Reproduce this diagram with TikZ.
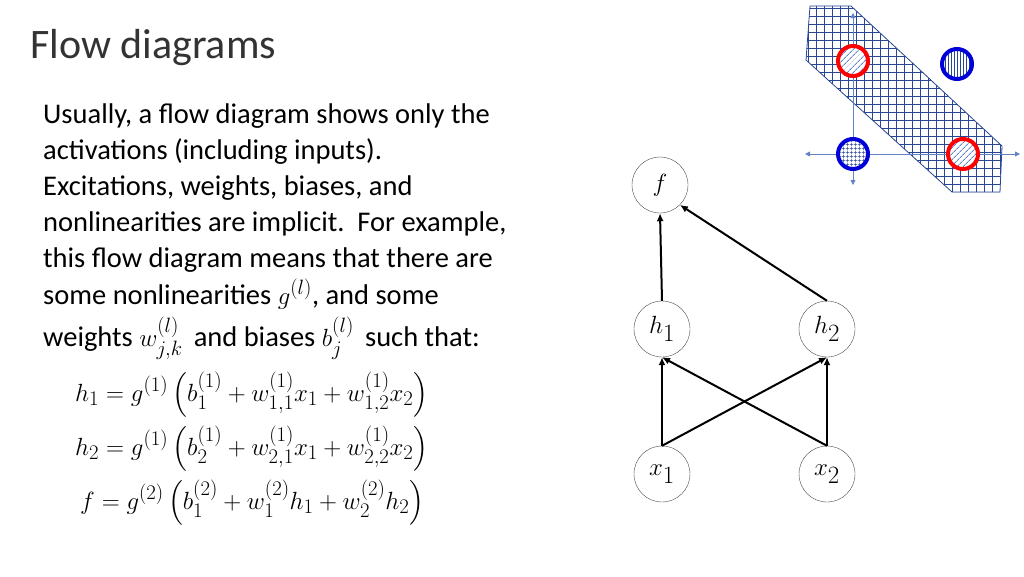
\documentclass[tikz,border=0pt]{standalone}
\usepackage{amsmath}
\usepackage{fontspec}
\setmainfont{Carlito}
\usetikzlibrary{patterns,patterns.meta,arrows.meta}
\begin{document}
\begin{tikzpicture}[x=1pt,y=-1pt,
  nn/.style={circle,draw=black!70,fill=white,minimum size=56pt,inner sep=0pt,font=\fontsize{34}{38}\selectfont},
  ar/.style={-{Latex[length=8pt,width=7pt]},line width=2pt},
  tl/.style={anchor=base west,inner sep=0pt,font=\fontsize{28.5}{34}\selectfont},
  eq/.style={anchor=base west,inner sep=0pt,font=\fontsize{31}{36}\selectfont},
  wc/.style={circle,minimum size=30pt,fill=white},
  rc/.style={circle,minimum size=30pt,draw=red,line width=4pt,pattern={Lines[angle=45,distance=4pt,line width=1pt]},pattern color=ax},
  bcv/.style={circle,minimum size=30pt,draw=blue!85!black,line width=4pt,pattern={Lines[angle=90,distance=3pt,line width=0.7pt]},pattern color=ib},
  bcg/.style={circle,minimum size=30pt,draw=blue!85!black,line width=4pt,pattern={Hatch[angle=0,distance=4pt,line width=0.6pt]},pattern color=ib}]
\useasboundingbox (0,0) rectangle (1024,576);
\node[anchor=base west,inner sep=0pt,font=\fontsize{42}{48}\selectfont,text=black!80] (title) at (30,58) {Flow diagrams};
\node[tl] (l1) at (43,123) {Usually, a flow diagram shows only the};
\node[tl] (l2) at (43,159) {activations (including inputs).};
\node[tl] (l3) at (43,195) {Excitations, weights, biases, and};
\node[tl] (l4) at (43,231) {nonlinearities are implicit.\ \ For example,};
\node[tl] (l5) at (43,267) {this flow diagram means that there are};
\node[tl] (l6) at (43,304) {some nonlinearities $g^{(l)}$, and some};
\node[tl] (l7) at (43,346) {weights $w^{(l)}_{j,k}$\, and biases $b^{(l)}_j$\, such that:};
\node[eq] (e1) at (75,401) {$h_1=g^{(1)}\,\Bigl(b^{(1)}_1+w^{(1)}_{1,1}x_1+w^{(1)}_{1,2}x_2\Bigr)$};
\node[eq] (e2) at (75,455) {$h_2=g^{(1)}\,\Bigl(b^{(1)}_2+w^{(1)}_{2,1}x_1+w^{(1)}_{2,2}x_2\Bigr)$};
\node[eq] (e3) at (80,509) {$f=g^{(2)}\,\Bigl(b^{(2)}_1+w^{(2)}_{1}h_1+w^{(2)}_{2}h_2\Bigr)$};
% network
\node[nn] (f) at (660,185) {$f$};
\node[nn] (h1) at (662,329) {$h_1$};
\node[nn] (h2) at (827,329) {$h_2$};
\node[nn] (x1) at (662,474) {$x_1$};
\node[nn] (x2) at (827,474) {$x_2$};
\draw[ar] (x1.north) -- (h1.south);
\draw[ar] (x1.north) -- (h2.south);
\draw[ar] (x2.north) -- (h1.south);
\draw[ar] (x2.north) -- (h2.south);
\draw[ar] (h1.north) -- (f.south);
\draw[ar] (h2.north) -- (f.south east);
% inset
\definecolor{ib}{RGB}{40,70,150}
\definecolor{ax}{RGB}{100,130,200}
\fill[pattern={Hatch[angle=0,distance=8pt,line width=0.6pt]},pattern color=ib]
  (810,6) -- (851,6) -- (1002,146) -- (1000,192) -- (952,192) -- (806,60) -- cycle;
\draw[ib,line width=0.8pt] (810,6) -- (851,6) -- (1002,146) -- (1000,192) -- (952,192) -- (806,60) -- cycle;
\coordinate (hl) at (805,154); \coordinate (hr) at (1020,154);
\coordinate (vt) at (853,13); \coordinate (vb) at (853,185);
\draw[ax,line width=0.8pt,{Triangle[length=5pt,width=5pt]}-{Triangle[length=5pt,width=5pt]}] (hl) -- (hr);
\draw[ax,line width=0.8pt,{Triangle[length=5pt,width=5pt]}-{Triangle[length=5pt,width=5pt]}] (vt) -- (vb);
\node[wc] at (853,61) {}; \node[rc] (c1) at (853,61) {};
\node[wc] at (963,154) {}; \node[rc] (c2) at (963,154) {};
\node[wc] at (957,64) {}; \node[bcv] (c3) at (957,64) {};
\node[wc] at (853,154) {}; \node[bcg] (c4) at (853,154) {};
\end{tikzpicture}
\end{document}
